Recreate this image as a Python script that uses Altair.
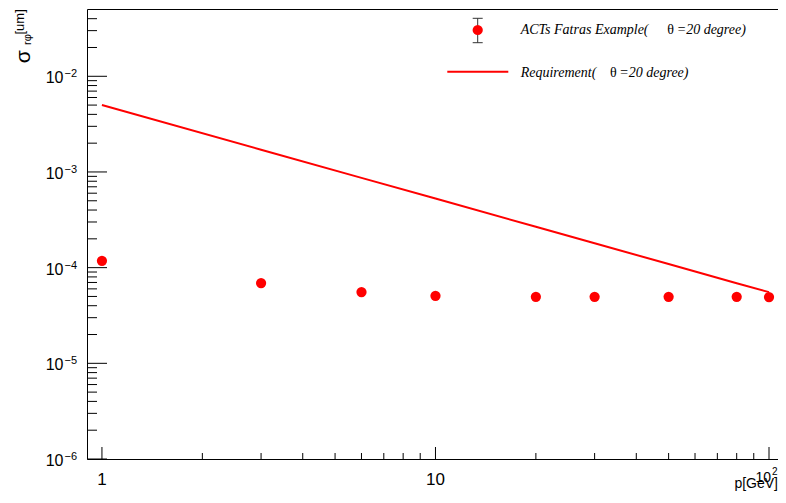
import altair as alt
import pandas as pd

# ---- data ----
p_gev = [1, 3, 6, 10, 20, 30, 50, 80, 100]
sigma_fatras = [1.18e-4, 6.9e-5, 5.55e-5, 5.07e-5, 4.96e-5, 4.96e-5, 4.96e-5, 4.96e-5, 4.93e-5]
sigma_req = [5.01e-3, 1.71e-3, 8.67e-4, 5.27e-4, 2.67e-4, 1.80e-4, 1.09e-4, 6.88e-5, 5.55e-5]

# axis ticks / labels
y_major = [1e-6, 1e-5, 1e-4, 1e-3, 1e-2]
y_major_exp = ["\u22126", "\u22125", "\u22124", "\u22123", "\u22122"]
y_minor = [2e-6, 3e-6, 4e-6, 5e-6, 6e-6, 7e-6, 8e-6, 9e-6,
           2e-5, 3e-5, 4e-5, 5e-5, 6e-5, 7e-5, 8e-5, 9e-5,
           2e-4, 3e-4, 4e-4, 5e-4, 6e-4, 7e-4, 8e-4, 9e-4,
           2e-3, 3e-3, 4e-3, 5e-3, 6e-3, 7e-3, 8e-3, 9e-3,
           2e-2, 3e-2, 4e-2]
x_major = [1, 10, 100]
x_major_text = ["1", "10"]
x_minor = [2, 3, 4, 5, 6, 7, 8, 9, 20, 30, 40, 50, 60, 70, 80, 90]
x_title = ["p[GeV]"]
legend_names = ["ACTs Fatras Example(", "Requirement("]
legend_theta = ["\u03b8", "\u03b8"]
legend_tail = ["=20 degree)", "=20 degree)"]

W, H = 691, 450
RED = "#ff0000"
SANS = "Liberation Sans, Arial, Helvetica, sans-serif"
SERIF = "Liberation Serif, Times New Roman, serif"

xs = alt.Scale(type="log", domain=[0.902, 106.4], nice=False)
ys = alt.Scale(type="log", domain=[1e-6, 0.0505], nice=False)

df_pts = pd.DataFrame({"p": p_gev, "s": sigma_fatras})
df_req = pd.DataFrame({"p": p_gev, "s": sigma_req})

X = alt.X("p:Q", scale=xs, axis=None)
Y = alt.Y("s:Q", scale=ys, axis=None)

req_line = alt.Chart(df_req).mark_line(color=RED, strokeWidth=2).encode(x=X, y=Y)
pts = alt.Chart(df_pts).mark_circle(color=RED, size=105, opacity=1).encode(x=X, y=Y)

# y ticks (inside frame)
df_ymaj = pd.DataFrame({"v": y_major, "b": ["10"] * len(y_major), "e": y_major_exp})
df_ymin = pd.DataFrame({"v": y_minor})
YV = alt.Y("v:Q", scale=ys, axis=None)
XV = alt.X("v:Q", scale=xs, axis=None)
ytick_maj = alt.Chart(df_ymaj).mark_rule(color="black", strokeWidth=1).encode(
    y=YV, x=alt.value(0), x2=alt.value(20))
ytick_min = alt.Chart(df_ymin).mark_rule(color="black", strokeWidth=1).encode(
    y=YV, x=alt.value(0), x2=alt.value(10))
ylab_base = alt.Chart(df_ymaj).mark_text(
    align="right", baseline="alphabetic", dy=7, fontSize=16, font=SANS, color="black"
).encode(y=YV, x=alt.value(-23.5), text="b:N")
ylab_exp = alt.Chart(df_ymaj).mark_text(
    align="left", baseline="alphabetic", dy=1, fontSize=11, font=SANS, color="black"
).encode(y=YV, x=alt.value(-22.5), text="e:N")

# x ticks
df_xmaj = pd.DataFrame({"v": x_major})
df_xmin = pd.DataFrame({"v": x_minor})
xtick_maj = alt.Chart(df_xmaj).mark_rule(color="black", strokeWidth=1).encode(
    x=XV, y=alt.value(H), y2=alt.value(H - 12))
xtick_min = alt.Chart(df_xmin).mark_rule(color="black", strokeWidth=1).encode(
    x=XV, y=alt.value(H), y2=alt.value(H - 6))
df_xlab = pd.DataFrame({"v": x_major[:2], "t": x_major_text})
xlab = alt.Chart(df_xlab).mark_text(
    align="center", baseline="alphabetic", fontSize=17, font=SANS, color="black"
).encode(x=XV, y=alt.value(476), text="t:N")
df_xlab2 = pd.DataFrame({"v": [x_major[2]], "b": ["10"], "e": ["2"]})
xlab2_b = alt.Chart(df_xlab2).mark_text(
    align="right", baseline="alphabetic", dx=2, fontSize=14, font=SANS, color="black"
).encode(x=XV, y=alt.value(472.7), text="b:N")
xlab2_e = alt.Chart(df_xlab2).mark_text(
    align="left", baseline="alphabetic", dx=3, fontSize=10, font=SANS, color="black"
).encode(x=XV, y=alt.value(466), text="e:N")

xtitle = alt.Chart(pd.DataFrame({"t": x_title})).mark_text(
    align="right", baseline="alphabetic", fontSize=14,
    font="Liberation Sans Narrow, " + SANS, color="black"
).encode(x=alt.value(W), y=alt.value(479), text="t:N")

# y title: sigma_{r phi}[um], rotated
yt_sigma = alt.Chart(pd.DataFrame({"t": ["\u03c3"]})).mark_text(
    align="left", baseline="alphabetic", angle=270, fontSize=21, font=SANS, color="black"
).encode(x=alt.value(-57), y=alt.value(54.3), text="t:N")
yt_sub = alt.Chart(pd.DataFrame({"t": ["r\u03c6"]})).mark_text(
    align="left", baseline="alphabetic", angle=270, fontSize=11, font=SANS, color="black"
).encode(x=alt.value(-56), y=alt.value(36), text="t:N")
yt_unit = alt.Chart(pd.DataFrame({"t": ["[um]"]})).mark_text(
    align="left", baseline="alphabetic", angle=270, fontSize=13, font=SANS, color="black"
).encode(x=alt.value(-63), y=alt.value(25.5), text="t:N")

# legend
leg_err = alt.Chart(pd.DataFrame({"a": [0]})).mark_rule(color="#333333", strokeWidth=1).encode(
    x=alt.value(390.7), y=alt.value(9.3), y2=alt.value(33.7))
leg_cap1 = alt.Chart(pd.DataFrame({"a": [0]})).mark_rule(color="#333333", strokeWidth=1).encode(
    x=alt.value(385.7), x2=alt.value(395.7), y=alt.value(9.3))
leg_cap2 = alt.Chart(pd.DataFrame({"a": [0]})).mark_rule(color="#333333", strokeWidth=1).encode(
    x=alt.value(385.7), x2=alt.value(395.7), y=alt.value(33.7))
leg_dot = alt.Chart(pd.DataFrame({"a": [0]})).mark_circle(color=RED, size=105, opacity=1).encode(
    x=alt.value(390.7), y=alt.value(21))
leg_line = alt.Chart(pd.DataFrame({"a": [0]})).mark_rule(color=RED, strokeWidth=2).encode(
    x=alt.value(360.3), x2=alt.value(421.3), y=alt.value(62.7))

df_leg = pd.DataFrame({
    "name": legend_names, "th": legend_theta, "tail": legend_tail,
    "y": [25.3, 67.7], "xth": [580.3, 523.0], "xtail": [589.7, 532.3],
})
leg_name = alt.Chart(df_leg).mark_text(
    align="left", baseline="alphabetic", fontSize=14, fontStyle="italic", font=SERIF, color="black"
).encode(x=alt.value(433.7), y=alt.Y("y:Q", scale=None), text="name:N")
leg_th = alt.Chart(df_leg).mark_text(
    align="left", baseline="alphabetic", fontSize=14, font=SERIF, color="black"
).encode(x=alt.X("xth:Q", scale=None), y=alt.Y("y:Q", scale=None), text="th:N")
leg_tail = alt.Chart(df_leg).mark_text(
    align="left", baseline="alphabetic", fontSize=14, fontStyle="italic", font=SERIF, color="black"
).encode(x=alt.X("xtail:Q", scale=None), y=alt.Y("y:Q", scale=None), text="tail:N")

chart = alt.layer(
    ytick_maj, ytick_min, xtick_maj, xtick_min,
    req_line, pts,
    ylab_base, ylab_exp, xlab, xlab2_b, xlab2_e, xtitle,
    yt_sigma, yt_sub, yt_unit,
    leg_err, leg_cap1, leg_cap2, leg_dot, leg_line, leg_name, leg_th, leg_tail,
).resolve_scale(x="shared", y="shared").properties(
    width=W, height=H,
    autosize=alt.AutoSizeParams(type="none"),
    padding={"left": 79, "top": 1, "right": 0, "bottom": 32},
    background="white",
).configure_view(stroke="black", strokeWidth=1)

chart.save("out.html", embed_options={"renderer": "svg", "actions": False})
